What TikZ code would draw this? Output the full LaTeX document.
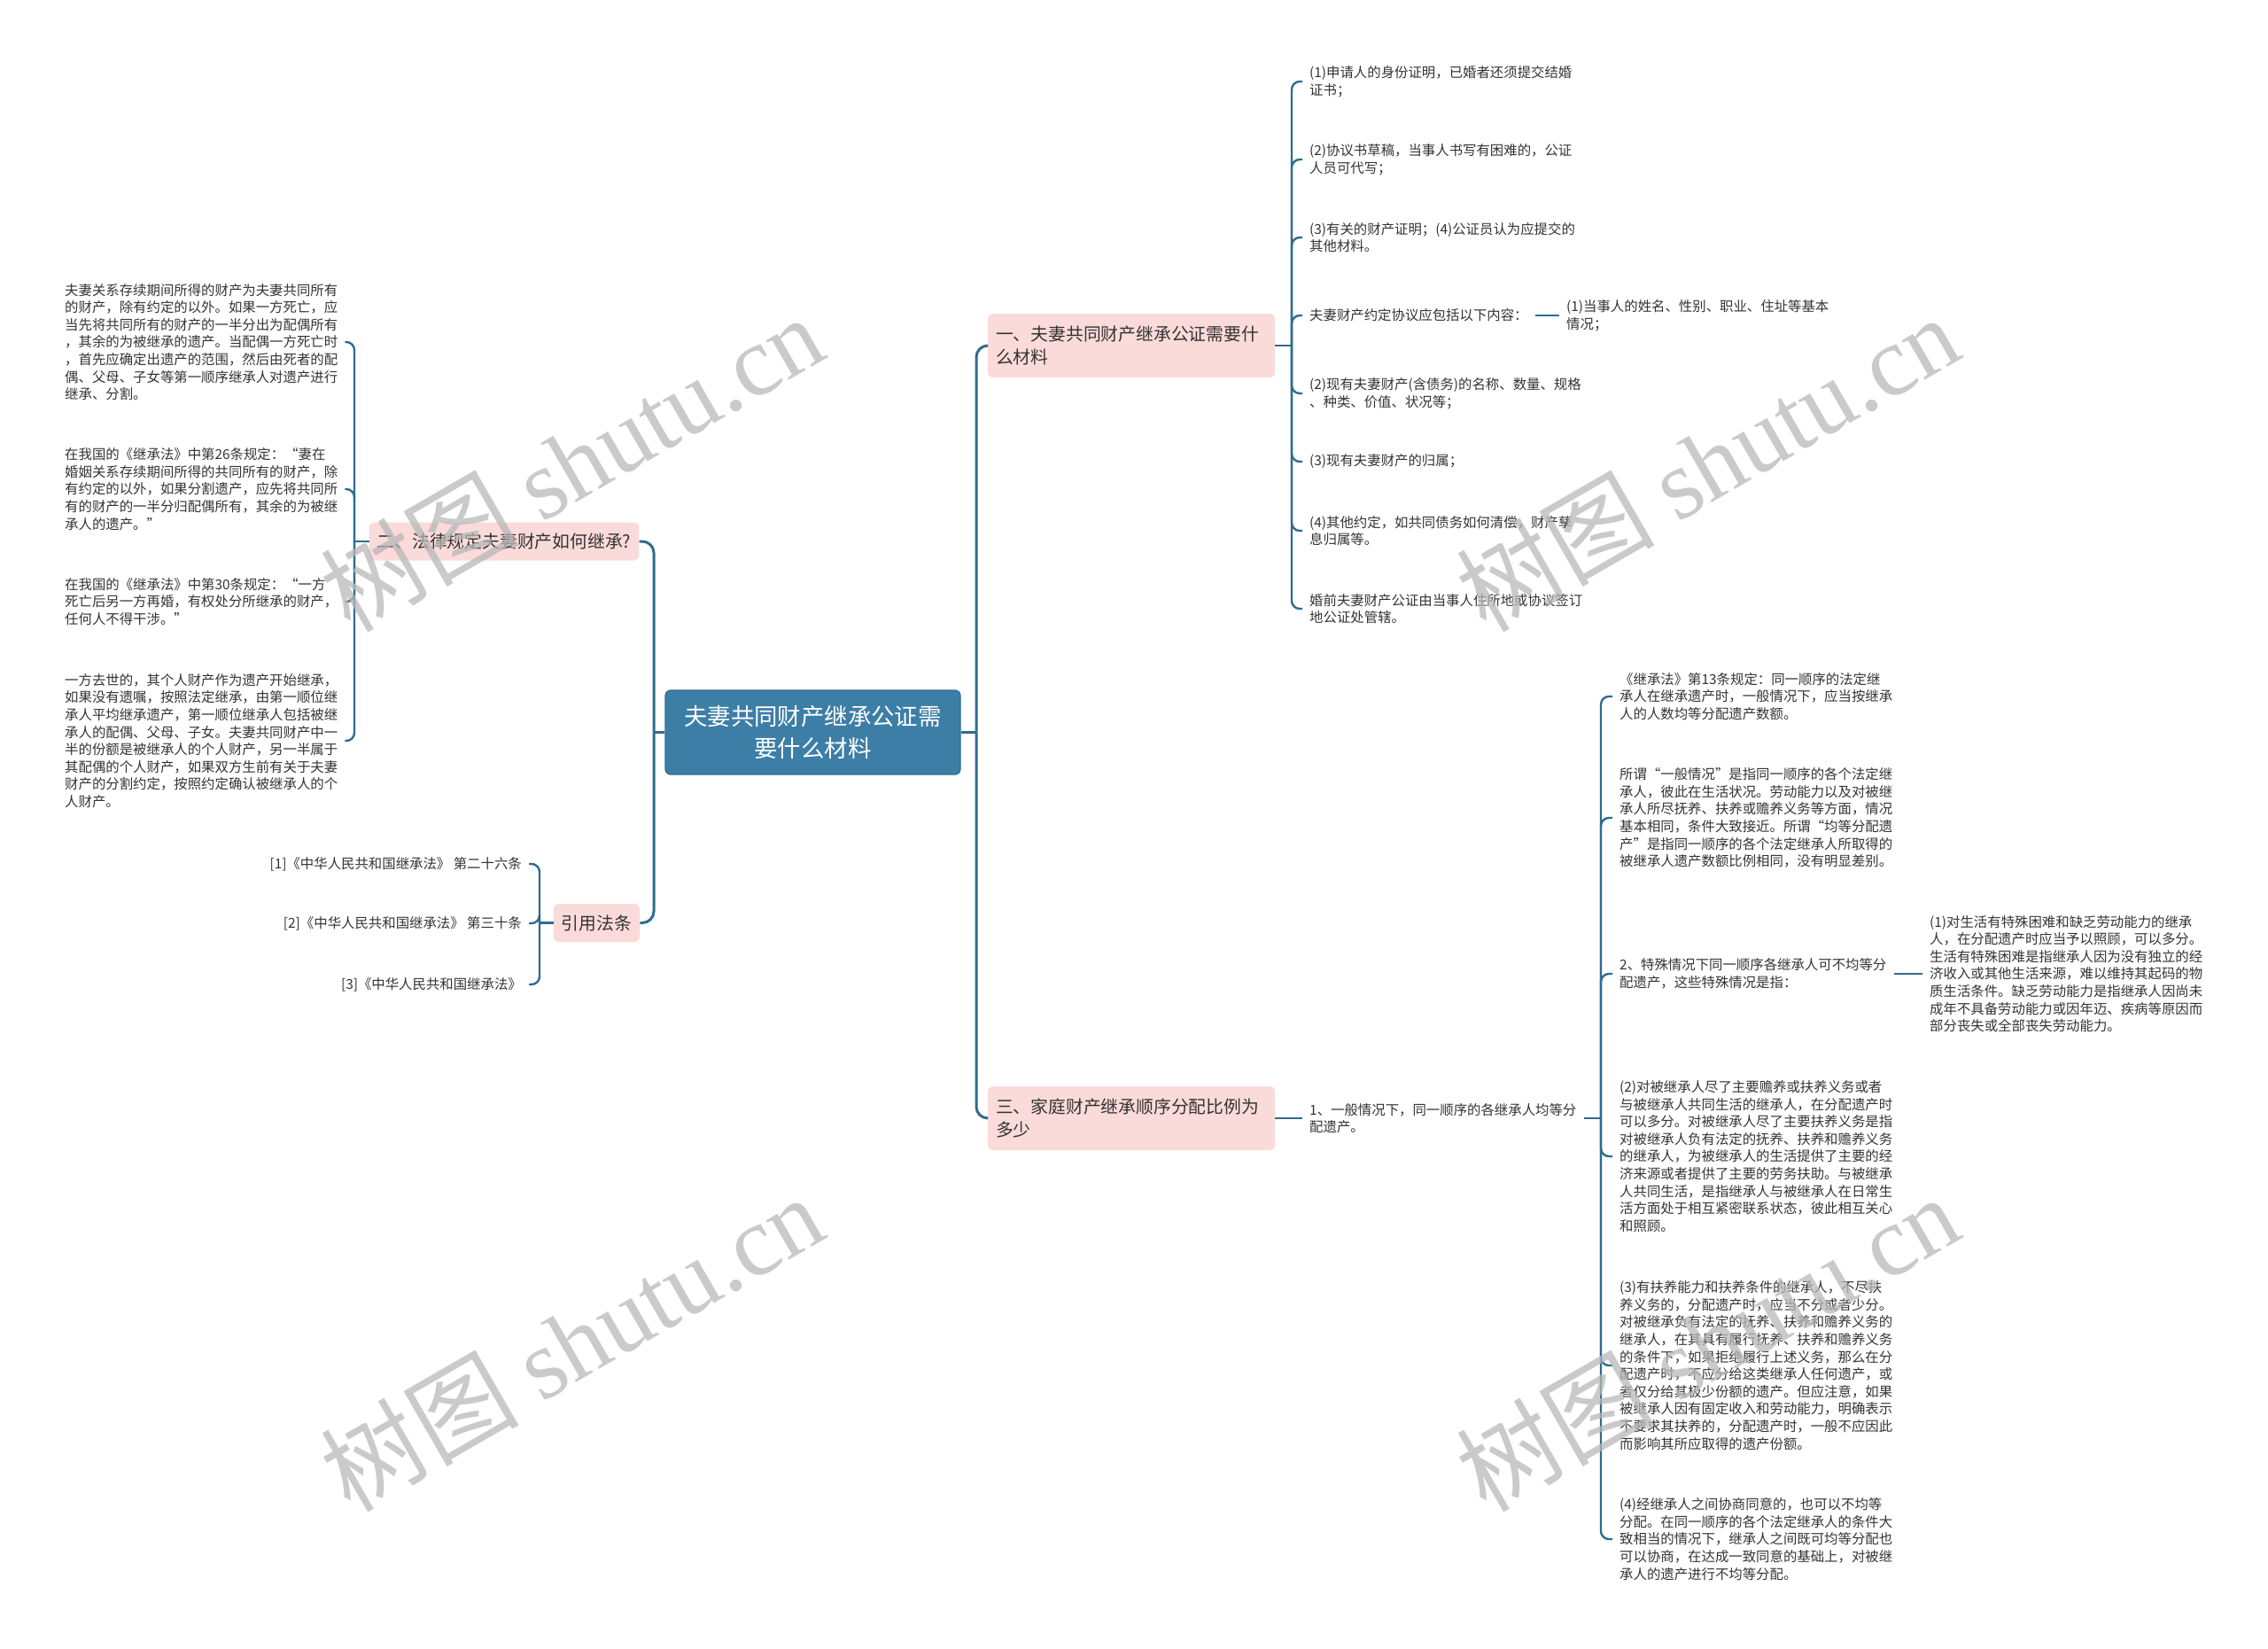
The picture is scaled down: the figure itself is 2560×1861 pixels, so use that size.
\documentclass[tikz,border=0pt]{standalone}
\usepackage{fontspec}
\setmainfont{Noto Sans CJK SC}
\newfontfamily\wmserif{Liberation Serif}
\definecolor{connc}{HTML}{2E6C8F}
\definecolor{mainc}{HTML}{3D7EA6}
\definecolor{maind}{HTML}{2E6C8F}
\definecolor{pinkc}{HTML}{FADBDA}
\definecolor{txtc}{HTML}{333333}
\begin{document}
\begin{tikzpicture}[x=1pt,y=-1pt,
  conn/.style={draw=connc, line width=2.4pt, rounded corners=9pt},
  mconn/.style={draw=connc, line width=3pt, rounded corners=13pt},
  leaf/.style={inner xsep=8pt, inner ysep=1pt, text=txtc, font=\fontsize{15.4}{19.6}\selectfont},
  leafw/.style={leaf, anchor=west, align=left},
  leafe/.style={leaf, anchor=east, align=right},
  branch/.style={fill=pinkc, rounded corners=6pt, text=txtc, font=\fontsize{19.8}{26}\selectfont, inner xsep=9pt, minimum height=43pt},
  mainnode/.style={fill=mainc, draw=maind, line width=1.2pt, rounded corners=6pt, text=white, font=\fontsize{26.4}{36}\selectfont, align=center, minimum width=333pt, minimum height=95pt},
  wm/.style={text=black!28, opacity=0.75, rotate=30, font=\fontsize{112}{112}\selectfont}
]
\useasboundingbox (0,0) rectangle (2560,1861);

% main and branches
\node[mainnode] (main) at (917.5,826.5) {夫妻共同财产继承公证需\\要什么材料};
\node[branch, align=left, text width=306pt, minimum height=72pt] (b1) at (1277,390) {一、夫妻共同财产继承公证需要什\\么材料};
\node[branch, align=left, text width=306pt, minimum height=72pt] (b4) at (1277,1262) {三、家庭财产继承顺序分配比例为\\多少};
\node[branch] (b2) at (569,611) {二、法律规定夫妻财产如何继承?};
\node[branch] (b3) at (673.5,1041.5) {引用法条};

\coordinate (jr) at (1102,826.5);
\coordinate (jl) at (738,826.5);
\draw[mconn] (main.east) -- (jr);
\draw[mconn] (jr) |- (b1.west);
\draw[mconn] (jr) |- (b4.west);
\draw[mconn] (main.west) -- (jl);
\draw[mconn] (jl) |- (b2.east);
\draw[mconn] (jl) |- (b3.east);

% branch 1 children
\node[leafw] (c1) at (1470,92) {(1)申请人的身份证明，已婚者还须提交结婚\\证书；};
\node[leafw] (c2) at (1470,180) {(2)协议书草稿，当事人书写有困难的，公证\\人员可代写；};
\node[leafw] (c3) at (1470,268) {(3)有关的财产证明；(4)公证员认为应提交的\\其他材料。};
\node[leafw] (c4) at (1470,356) {夫妻财产约定协议应包括以下内容：};
\node[leafw] (c4s) at (1760,356) {(1)当事人的姓名、性别、职业、住址等基本\\情况；};
\node[leafw] (c5) at (1470,444) {(2)现有夫妻财产(含债务)的名称、数量、规格\\、种类、价值、状况等；};
\node[leafw] (c6) at (1470,521) {(3)现有夫妻财产的归属；};
\node[leafw] (c7) at (1470,599) {(4)其他约定，如共同债务如何清偿，财产孳\\息归属等。};
\node[leafw] (c8) at (1470,687) {婚前夫妻财产公证由当事人住所地或协议签订\\地公证处管辖。};

\coordinate (j1) at (1458,390);
\draw[conn] (b1.east) -- (j1);
\foreach \c in {c1,c2,c3,c4,c5,c6,c7,c8} { \draw[conn] (j1) |- (\c.west); }
\draw[conn] (c4.east) -- (c4s.west);

% branch 4 children
\node[leafw] (n1) at (1470,1262) {1、一般情况下，同一顺序的各继承人均等分\\配遗产。};
\draw[conn] (b4.east) -- (n1.west);
\node[leafw] (s1) at (1820,786) {《继承法》第13条规定：同一顺序的法定继\\承人在继承遗产时，一般情况下，应当按继承\\人的人数均等分配遗产数额。};
\node[leafw] (s2) at (1820,923) {所谓“一般情况”是指同一顺序的各个法定继\\承人，彼此在生活状况。劳动能力以及对被继\\承人所尽抚养、扶养或赡养义务等方面，情况\\基本相同，条件大致接近。所谓“均等分配遗\\产”是指同一顺序的各个法定继承人所取得的\\被继承人遗产数额比例相同，没有明显差别。};
\node[leafw] (s3) at (1820,1099) {2、特殊情况下同一顺序各继承人可不均等分\\配遗产，这些特殊情况是指：};
\node[leafw] (s3a) at (2170,1099) {(1)对生活有特殊困难和缺乏劳动能力的继承\\人，在分配遗产时应当予以照顾，可以多分。\\生活有特殊困难是指继承人因为没有独立的经\\济收入或其他生活来源，难以维持其起码的物\\质生活条件。缺乏劳动能力是指继承人因尚未\\成年不具备劳动能力或因年迈、疾病等原因而\\部分丧失或全部丧失劳动能力。};
\node[leafw] (s4) at (1820,1305) {(2)对被继承人尽了主要赡养或扶养义务或者\\与被继承人共同生活的继承人，在分配遗产时\\可以多分。对被继承人尽了主要扶养义务是指\\对被继承人负有法定的抚养、扶养和赡养义务\\的继承人，为被继承人的生活提供了主要的经\\济来源或者提供了主要的劳务扶助。与被继承\\人共同生活，是指继承人与被继承人在日常生\\活方面处于相互紧密联系状态，彼此相互关心\\和照顾。};
\node[leafw] (s5) at (1820,1541) {(3)有扶养能力和扶养条件的继承人，不尽扶\\养义务的，分配遗产时，应当不分或者少分。\\对被继承负有法定的抚养、扶养和赡养义务的\\继承人，在其具有履行抚养、扶养和赡养义务\\的条件下，如果拒绝履行上述义务，那么在分\\配遗产时，不应分给这类继承人任何遗产，或\\者仅分给其极少份额的遗产。但应注意，如果\\被继承人因有固定收入和劳动能力，明确表示\\不要求其扶养的，分配遗产时，一般不应因此\\而影响其所应取得的遗产份额。};
\node[leafw] (s6) at (1820,1737) {(4)经继承人之间协商同意的，也可以不均等\\分配。在同一顺序的各个法定继承人的条件大\\致相当的情况下，继承人之间既可均等分配也\\可以协商，在达成一致同意的基础上，对被继\\承人的遗产进行不均等分配。};

\coordinate (j4) at (1807,1262);
\draw[conn] (n1.east) -- (j4);
\foreach \c in {s1,s2,s3,s4,s5,s6} { \draw[conn] (j4) |- (\c.west); }
\draw[conn] (s3.east) -- (s3a.west);

% branch 2 children
\node[leafw] (l1) at (65,386) {夫妻关系存续期间所得的财产为夫妻共同所有\\的财产，除有约定的以外。如果一方死亡，应\\当先将共同所有的财产的一半分出为配偶所有\\，其余的为被继承的遗产。当配偶一方死亡时\\，首先应确定出遗产的范围，然后由死者的配\\偶、父母、子女等第一顺序继承人对遗产进行\\继承、分割。};
\node[leafw] (l2) at (65,552) {在我国的《继承法》中第26条规定：“妻在\\婚姻关系存续期间所得的共同所有的财产，除\\有约定的以外，如果分割遗产，应先将共同所\\有的财产的一半分归配偶所有，其余的为被继\\承人的遗产。”};
\node[leafw] (l3) at (65,679) {在我国的《继承法》中第30条规定：“一方\\死亡后另一方再婚，有权处分所继承的财产，\\任何人不得干涉。”};
\node[leafw] (l4) at (65,836) {一方去世的，其个人财产作为遗产开始继承，\\如果没有遗嘱，按照法定继承，由第一顺位继\\承人平均继承遗产，第一顺位继承人包括被继\\承人的配偶、父母、子女。夫妻共同财产中一\\半的份额是被继承人的个人财产，另一半属于\\其配偶的个人财产，如果双方生前有关于夫妻\\财产的分割约定，按照约定确认被继承人的个\\人财产。};

\coordinate (j2) at (400,611);
\draw[conn] (b2.west) -- (j2);
\foreach \c in {l1,l2,l3,l4} { \draw[conn] (j2) |- (\c.east); }

% branch 3 children
\node[leafe] (r1) at (597,975) {[1]《中华人民共和国继承法》 第二十六条};
\node[leafe] (r2) at (597,1042) {[2]《中华人民共和国继承法》 第三十条};
\node[leafe] (r3) at (597,1111) {[3]《中华人民共和国继承法》};
\coordinate (j3) at (609,1041.5);
\draw[conn] (b3.west) -- (j3);
\foreach \c in {r1,r2,r3} { \draw[conn] (j3) |- (\c.east); }

% watermarks
\node[wm] (w1) at (645,522) {树图 {\wmserif shutu.cn}};
\node[wm] (w2) at (1927,522) {树图 {\wmserif shutu.cn}};
\node[wm] (w3) at (645,1515) {树图 {\wmserif shutu.cn}};
\node[wm] (w4) at (1927,1515) {树图 {\wmserif shutu.cn}};
\end{tikzpicture}
\end{document}
